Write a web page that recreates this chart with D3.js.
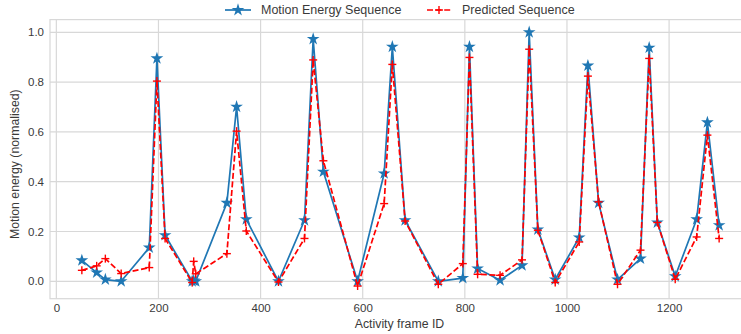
<!DOCTYPE html>
<html>
<head>
<meta charset="utf-8">
<script src="https://cdn.jsdelivr.net/npm/d3@7/dist/d3.min.js"></script>
<style>
  html, body { margin: 0; padding: 0; background: #fff; }
  svg { display: block; font-family: "Liberation Sans", Arial, sans-serif; }
</style>
</head>
<body>
<svg id="chart" width="741" height="334"></svg>
<script>
// Frame IDs sampled along the activity
const frameIds = [50, 79, 96, 127, 182, 197, 213, 266, 269, 273, 334, 353, 372, 435,
  486, 503, 523, 590, 642, 658, 683, 748, 796, 809, 825, 869, 912, 926, 943, 977,
  1024, 1041, 1062, 1099, 1144, 1161, 1177, 1212, 1254, 1275, 1298];

// Normalised motion energy measured at each frame
const motionEnergy = [0.084, 0.035, 0.007, 0.0, 0.135, 0.895, 0.185, 0.0, 0.003, 0.0,
  0.315, 0.701, 0.249, 0.0, 0.245, 0.973, 0.44, 0.0, 0.433, 0.942, 0.245, 0.0,
  0.013, 0.942, 0.051, 0.004, 0.064, 1.0, 0.208, 0.007, 0.176, 0.866, 0.315, 0.007,
  0.091, 0.938, 0.236, 0.02, 0.249, 0.638, 0.225];

// Model prediction at the same frames
const predicted = [0.044, 0.062, 0.091, 0.031, 0.055, 0.804, 0.172, -0.005, 0.08, 0.03,
  0.111, 0.603, 0.202, -0.003, 0.172, 0.889, 0.484, -0.019, 0.312, 0.871, 0.242, -0.012,
  0.071, 0.899, 0.028, 0.024, 0.086, 0.932, 0.205, -0.005, 0.158, 0.824, 0.319, -0.012,
  0.125, 0.895, 0.236, 0.008, 0.178, 0.587, 0.172];

const xTicks = [0, 200, 400, 600, 800, 1000, 1200];
const yTicks = [0.0, 0.2, 0.4, 0.6, 0.8, 1.0];

const seriesNames = ["Motion Energy Sequence", "Predicted Sequence"];

const svg = d3.select("#chart");
const plot = { left: 50, right: 751, top: 19.6, bottom: 298.7 };

// 5% padding around the data extent on both axes
function padded(values) {
  const [lo, hi] = d3.extent(values);
  const m = (hi - lo) * 0.05;
  return [lo - m, hi + m];
}
const x = d3.scaleLinear().domain(padded(frameIds)).range([plot.left, plot.right]);
const y = d3.scaleLinear().domain(padded(motionEnergy.concat(predicted))).range([plot.bottom, plot.top]);

const gridColor = "#d8d8d8";
const textColor = "#3a3a3a";

// grid
svg.append("g").selectAll("line").data(xTicks).join("line")
  .attr("x1", d => x(d)).attr("x2", d => x(d))
  .attr("y1", plot.top).attr("y2", plot.bottom)
  .attr("stroke", gridColor).attr("stroke-width", 1.2);
svg.append("g").selectAll("line").data(yTicks).join("line")
  .attr("x1", plot.left).attr("x2", plot.right)
  .attr("y1", d => y(d)).attr("y2", d => y(d))
  .attr("stroke", gridColor).attr("stroke-width", 1.2);

// frame
svg.append("rect")
  .attr("x", plot.left).attr("y", plot.top)
  .attr("width", plot.right - plot.left).attr("height", plot.bottom - plot.top)
  .attr("fill", "none").attr("stroke", gridColor).attr("stroke-width", 1.2);

// axes (labels only)
const xAxis = svg.append("g")
  .attr("transform", `translate(0,${plot.bottom})`)
  .call(d3.axisBottom(x).tickValues(xTicks).tickSize(0).tickPadding(5).tickFormat(d3.format("d")));
const yAxis = svg.append("g")
  .attr("transform", `translate(${plot.left},0)`)
  .call(d3.axisLeft(y).tickValues(yTicks).tickSize(0).tickPadding(6).tickFormat(d3.format(".1f")));
[xAxis, yAxis].forEach(g => {
  g.select(".domain").remove();
  g.selectAll("text").attr("fill", textColor).style("font-size", "11.5px")
    .style("font-family", "'Liberation Sans', Arial, sans-serif");
});

svg.append("text")
  .attr("x", (plot.left + 741) / 2 + 4).attr("y", 327.5)
  .attr("text-anchor", "middle").attr("fill", textColor).style("font-size", "12.3px")
  .text("Activity frame ID");
svg.append("text")
  .attr("transform", `translate(19,${(plot.top + plot.bottom) / 2 + 5}) rotate(-90)`)
  .attr("text-anchor", "middle").attr("fill", textColor).style("font-size", "12.3px")
  .text("Motion energy (normalised)");

const blue = "#1f77b4";
const red = "#ff0000";

const line = (vals) => d3.line().x((d, i) => x(frameIds[i])).y(d => y(d))(vals);

// measured sequence: solid with star markers
svg.append("path").attr("d", line(motionEnergy))
  .attr("fill", "none").attr("stroke", blue).attr("stroke-width", 1.7).attr("stroke-linejoin", "round");
const star = d3.symbol().type(d3.symbolStar).size(50);
svg.append("g").selectAll("path").data(motionEnergy).join("path")
  .attr("d", star)
  .attr("transform", (d, i) => `translate(${x(frameIds[i])},${y(d)})`)
  .attr("fill", blue);

// predicted sequence: dashed with plus markers
svg.append("path").attr("d", line(predicted))
  .attr("fill", "none").attr("stroke", red).attr("stroke-width", 1.7)
  .attr("stroke-dasharray", "6,2.6");
function plus(g, cx, cy, r) {
  g.append("line").attr("x1", cx - r).attr("x2", cx + r).attr("y1", cy).attr("y2", cy);
  g.append("line").attr("x1", cx).attr("x2", cx).attr("y1", cy - r).attr("y2", cy + r);
}
const plusG = svg.append("g").attr("stroke", red).attr("stroke-width", 1.4);
predicted.forEach((d, i) => plus(plusG, x(frameIds[i]), y(d), 4));

// legend above the plot
const legend = svg.append("g").style("font-size", "12.5px").attr("fill", textColor);
const leg1 = legend.append("g").attr("transform", "translate(225,10)");
leg1.append("line").attr("x1", 0).attr("x2", 26).attr("stroke", blue).attr("stroke-width", 1.7);
leg1.append("path").attr("d", star).attr("transform", "translate(13,0)").attr("fill", blue);
leg1.append("text").attr("x", 36).attr("dy", "0.35em").text(seriesNames[0]);
const leg2 = legend.append("g").attr("transform", "translate(427,10)");
leg2.append("line").attr("x1", 0).attr("x2", 24).attr("stroke", red).attr("stroke-width", 1.7)
  .attr("stroke-dasharray", "6,2.6");
const p2 = leg2.append("g").attr("stroke", red).attr("stroke-width", 1.4);
plus(p2, 12, 0, 4);
leg2.append("text").attr("x", 35).attr("dy", "0.35em").text(seriesNames[1]);
</script>
</body>
</html>
